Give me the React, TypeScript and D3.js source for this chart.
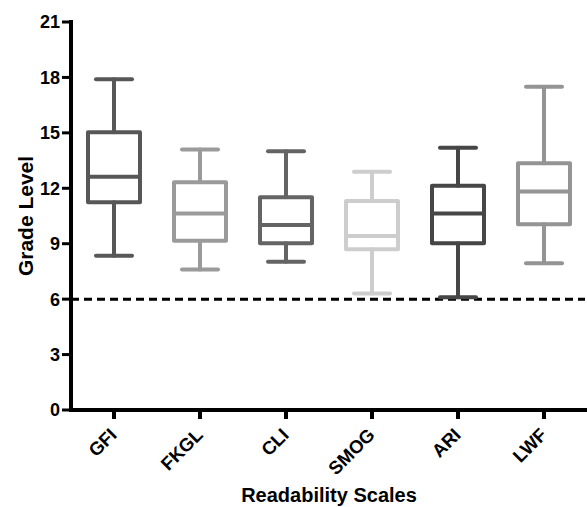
import React from "react";
import * as d3 from "d3";

const categories = ["GFI", "FKGL", "CLI", "SMOG", "ARI", "LWF"];
const minValues = [8.35, 7.6, 8.03, 6.3, 6.1, 7.94];
const q1Values = [11.25, 9.16, 9.02, 8.7, 9.03, 10.05];
const medianValues = [12.62, 10.64, 10.01, 9.42, 10.64, 11.82];
const q3Values = [15.03, 12.32, 11.51, 11.31, 12.14, 13.35];
const maxValues = [17.9, 14.1, 14.0, 12.9, 14.2, 17.5];
const colors = ["#575757", "#9a9a9a", "#646464", "#cdcdcd", "#464646", "#949494"];
const yTicks = [0, 3, 6, 9, 12, 15, 18, 21];
const referenceLine = 6;

const W = 587;
const H = 507;

export default function App() {
  const x = d3.scaleBand<string>().domain(categories).range([71, 587]).paddingInner(0).paddingOuter(0);
  const y = d3.scaleLinear().domain([0, 21]).range([410, 22]);
  const bw = x.bandwidth();
  const font = "'Liberation Sans', Arial, Helvetica, sans-serif";
  const boxHalf = 26;
  const capHalf = 18;

  return (
    <svg width={W} height={H} style={{ position: "absolute", left: 0, top: 0 }} fontFamily={font}>
      <rect width={W} height={H} fill="#fff" />
      {/* reference line */}
      <line x1={71} x2={585} y1={y(referenceLine)} y2={y(referenceLine)} stroke="#000" strokeWidth={3} strokeDasharray="8,5" />
      {/* boxes */}
      {categories.map((c, i) => {
        const cx = (x(c) as number) + bw / 2;
        const col = colors[i];
        return (
          <g key={c} stroke={col} strokeWidth={4} fill="none" strokeLinecap="round">
            <line x1={cx} x2={cx} y1={y(q3Values[i])} y2={y(maxValues[i])} />
            <line x1={cx} x2={cx} y1={y(q1Values[i])} y2={y(minValues[i])} />
            <line x1={cx - capHalf} x2={cx + capHalf} y1={y(maxValues[i])} y2={y(maxValues[i])} />
            <line x1={cx - capHalf} x2={cx + capHalf} y1={y(minValues[i])} y2={y(minValues[i])} />
            <rect x={cx - boxHalf} y={y(q3Values[i])} width={boxHalf * 2} height={y(q1Values[i]) - y(q3Values[i])} strokeLinejoin="round" />
            <line x1={cx - boxHalf} x2={cx + boxHalf} y1={y(medianValues[i])} y2={y(medianValues[i])} strokeLinecap="butt" />
          </g>
        );
      })}
      {/* y axis */}
      <line x1={71} x2={71} y1={y(21) - 2} y2={y(0) + 2} stroke="#000" strokeWidth={4} />
      {yTicks.map((t) => (
        <g key={t}>
          <line x1={62} x2={71} y1={y(t)} y2={y(t)} stroke="#000" strokeWidth={3} />
          <text x={60} y={y(t)} dy="0.36em" textAnchor="end" fontSize={18} fontWeight="bold" fill="#000">
            {t}
          </text>
        </g>
      ))}
      {/* x axis */}
      <line x1={69} x2={587} y1={y(0)} y2={y(0)} stroke="#000" strokeWidth={4} />
      {categories.map((c) => {
        const cx = (x(c) as number) + bw / 2;
        return (
          <g key={c}>
            <line x1={cx} x2={cx} y1={y(0)} y2={y(0) + 9} stroke="#000" strokeWidth={4} />
            <text
              transform={`translate(${cx + 4},${y(0) + 26}) rotate(-45)`}
              textAnchor="end"
              fontSize={18.5}
              fontWeight="bold"
              fill="#000"
            >
              {c}
            </text>
          </g>
        );
      })}
      <text transform={`translate(33,${(y(0) + y(21)) / 2}) rotate(-90)`} textAnchor="middle" fontSize={21} fontWeight="bold" fill="#000">
        Grade Level
      </text>
      <text x={329} y={502} textAnchor="middle" fontSize={20} fontWeight="bold" fill="#000">
        Readability Scales
      </text>
    </svg>
  );
}
